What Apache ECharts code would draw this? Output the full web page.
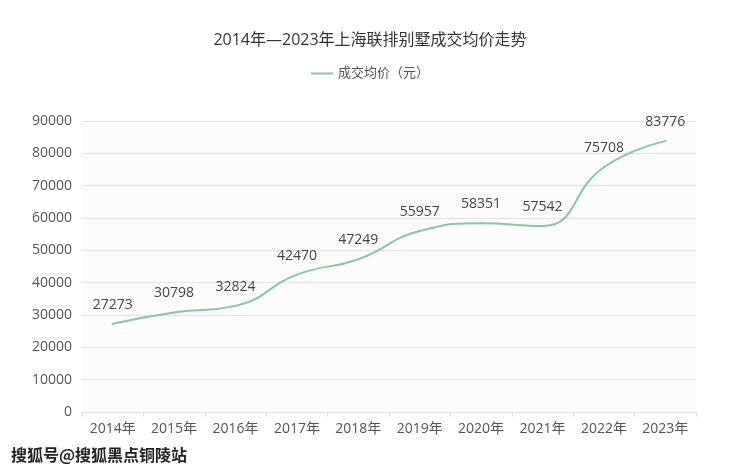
<!DOCTYPE html>
<html lang="zh-CN">
  <head>
    <meta charset="utf-8" />
    <title>上海联排别墅成交均价走势</title>
    <script src="https://cdn.jsdelivr.net/npm/echarts@6/dist/echarts.min.js"></script>
    <style>
      html, body { margin: 0; padding: 0; background: #fff; }
      #chart { width: 740px; height: 471px; }
    </style>
  </head>
  <body>
    <div id="chart"></div>
    <script type="text/javascript">
      // 年份
      const years = ["2014年", "2015年", "2016年", "2017年", "2018年", "2019年", "2020年", "2021年", "2022年", "2023年"];
      // 成交均价（元）
      const prices = [27273, 30798, 32824, 42470, 47249, 55957, 58351, 57542, 75708, 83776];

      const chart = echarts.init(document.getElementById("chart"));
      const font = "'Open Sans', 'Noto Sans CJK SC', sans-serif";

      chart.setOption({
        textStyle: { fontFamily: font },
        title: {
          text: "2014年—2023年上海联排别墅成交均价走势",
          left: "center",
          top: 27,
          textStyle: { fontSize: 16, fontWeight: "normal", color: "#333", fontFamily: font }
        },
        legend: {
          top: 62,
          left: "center",
          itemWidth: 22,
          itemHeight: 10,
          icon: "path://M0,4 L22,4 L22,6 L0,6 Z",
          textStyle: { fontSize: 13, color: "#555", fontFamily: font }
        },
        grid: { left: 82, right: 44, top: 121, bottom: 59 },
        xAxis: {
          type: "category",
          data: years,
          boundaryGap: true,
          axisLine: { lineStyle: { color: "#ddd" } },
          axisTick: { show: true, lineStyle: { color: "#ddd" } },
          axisLabel: { color: "#555", fontSize: 14, margin: 10, fontFamily: font }
        },
        yAxis: {
          type: "value",
          min: 0,
          max: 90000,
          interval: 10000,
          axisLine: { show: false },
          axisTick: { show: false },
          axisLabel: {
            color: "#555",
            fontSize: 14,
            margin: 10,
            fontFamily: font,
            formatter: function (v) { return String(v); }
          },
          splitLine: { lineStyle: { color: "#e2e2e2" } },
          splitArea: { show: true, areaStyle: { color: ["#fcfcfc", "#fcfcfc"] } }
        },
        series: [
          {
            name: "成交均价（元）",
            type: "line",
            data: prices,
            smooth: true,
            showSymbol: true,
            symbol: "circle",
            symbolSize: 2,
            lineStyle: { color: "#86c99b", width: 2 },
            itemStyle: { color: "#86c99b" },
            label: {
              show: true,
              position: "top",
              distance: 11,
              color: "#444",
              fontSize: 14,
              fontFamily: font
            }
          }
        ],
        graphic: [
          {
            type: "text",
            left: 10,
            top: 446,
            style: {
              text: "搜狐号@搜狐黑点铜陵站",
              fill: "#222",
              stroke: "#fff",
              lineWidth: 2,
              font: "bold 16px 'Noto Sans CJK SC', sans-serif"
            }
          }
        ]
      });

      window.onresize = function () {
        chart.resize();
      };
    </script>
  </body>
</html>
